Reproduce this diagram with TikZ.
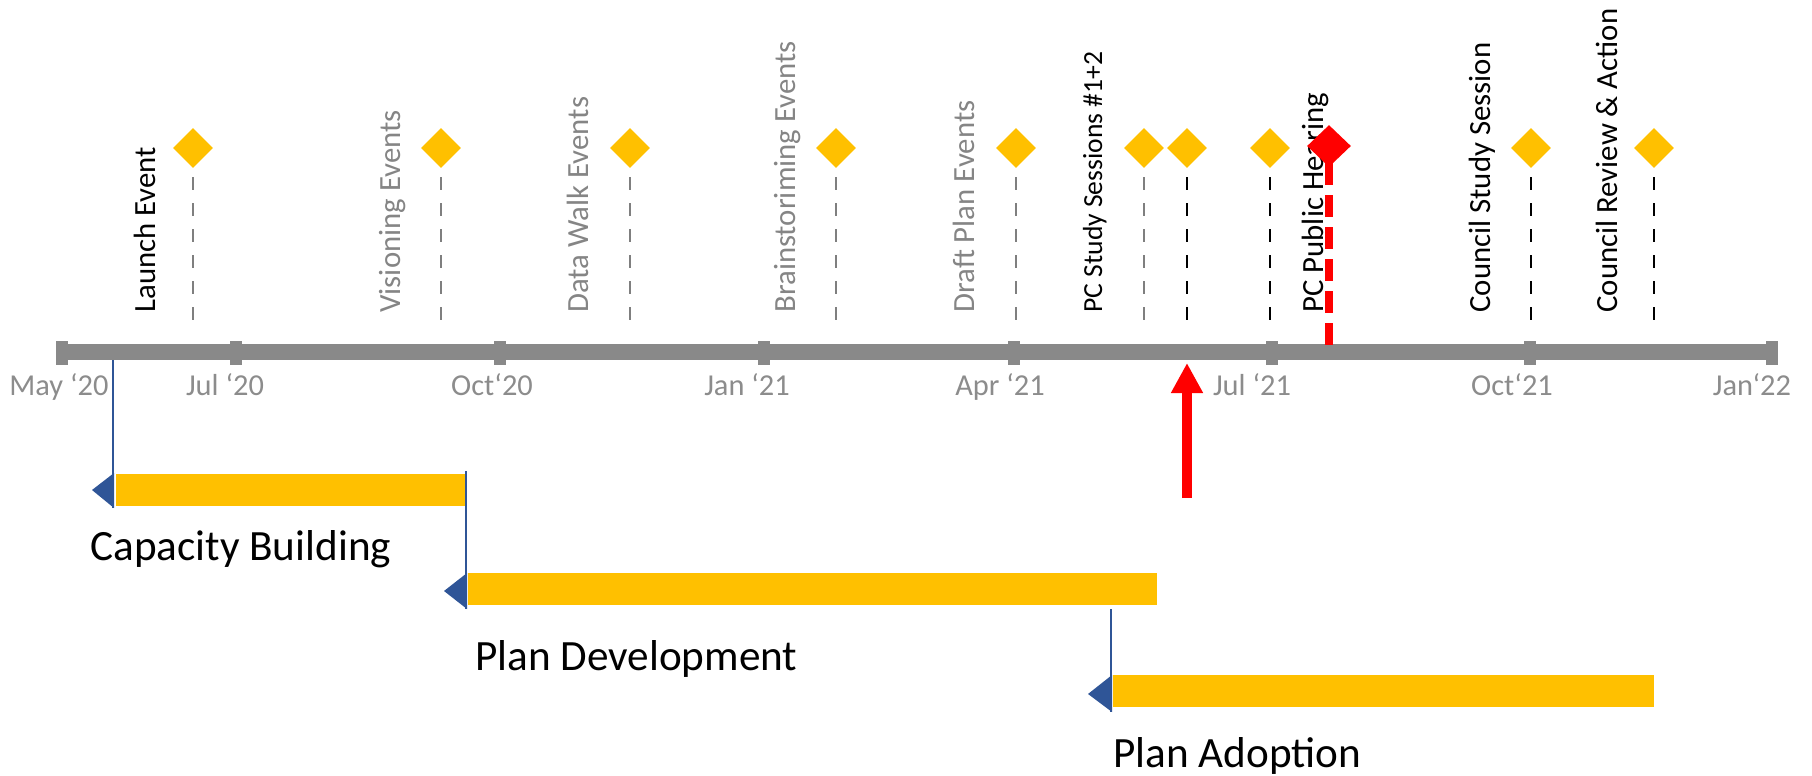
\documentclass[tikz,border=0pt]{standalone}
\usepackage{fontspec}
\setmainfont{Carlito}
\usetikzlibrary{shapes.geometric,arrows.meta}
\definecolor{axgray}{HTML}{898989}
\definecolor{mgray}{HTML}{8C8C8C}
\definecolor{egray}{HTML}{858585}
\definecolor{lgray}{HTML}{7F7F7F}
\definecolor{gold}{HTML}{FFC000}
\definecolor{flagblue}{HTML}{2F5597}
\definecolor{hotred}{HTML}{FF0000}
\begin{document}
\begin{tikzpicture}[x=0.5pt,y=-0.5pt,
 tickbox/.style={rectangle,fill=axgray,inner sep=0pt,minimum width=6pt,minimum height=12pt},
 monthlbl/.style={font=\fontsize{15.2}{18}\selectfont,text=mgray,anchor=base,inner sep=0pt},
 evlbl/.style={font=\fontsize{15.4}{18}\selectfont,rotate=90,anchor=base west,inner sep=0pt},
 evdia/.style={diamond,fill=gold,inner sep=0pt,minimum width=20pt,minimum height=20pt},
 reddia/.style={diamond,fill=hotred,inner sep=0pt,minimum width=22pt,minimum height=21pt},
 evline/.style={draw=lgray,line width=1pt,dash pattern=on 6.5pt off 6.5pt},
 evlinek/.style={draw=black,line width=1.2pt,dash pattern=on 6.5pt off 6.5pt},
 redline/.style={draw=hotred,line width=4pt,dash pattern=on 11pt off 5pt},
 axisline/.style={draw=axgray,line width=8pt},
 barbox/.style={rectangle,fill=gold,inner sep=0pt,anchor=north west,minimum height=16pt},
 flagline/.style={draw=flagblue,line width=1pt},
 flagtip/.style={fill=flagblue},
 phaselbl/.style={font=\fontsize{21.6}{26}\selectfont,anchor=base west,inner sep=0pt},
 redarrow/.style={draw=hotred,line width=5pt,-{Triangle[length=15pt,width=15pt]}}
]
\useasboundingbox (0,0) rectangle (1812,776);

% axis
\coordinate (axL) at (57,352);
\coordinate (axR) at (1777,352);
\draw[axisline] (axL) -- (axR);
\node[tickbox] (t0) at (62,353) {};
\node[tickbox] (t1) at (236,353) {};
\node[tickbox] (t2) at (500,353) {};
\node[tickbox] (t3) at (764,353) {};
\node[tickbox] (t4) at (1014,353) {};
\node[tickbox] (t5) at (1272,353) {};
\node[tickbox] (t6) at (1530,353) {};
\node[tickbox] (t7) at (1772,353) {};

% month labels
\node[monthlbl] (m0) at (59,395) {May ‘20};
\node[monthlbl] (m1) at (225,395) {Jul ‘20};
\node[monthlbl] (m2) at (492,395) {Oct‘20};
\node[monthlbl] (m3) at (747,395) {Jan ‘21};
\node[monthlbl] (m4) at (1000,395) {Apr ‘21};
\node[monthlbl] (m5) at (1252,395) {Jul ‘21};
\node[monthlbl] (m6) at (1512,395) {Oct‘21};
\node[monthlbl] (m7) at (1752,395) {Jan‘22};

% event labels
\node[evlbl] (l1) at (155,313) {Launch Event};
\node[evlbl,text=egray] (l2) at (400,313) {Visioning Events};
\node[evlbl,text=egray] (l3) at (588,313) {Data Walk Events};
\node[evlbl,text=egray] (l4) at (795,313) {Brainstoriming Events};
\node[evlbl,text=egray] (l5) at (974,313) {Draft Plan Events};
\node[evlbl,font=\fontsize{13.8}{17}\selectfont] (l6) at (1102,313) {PC Study Sessions \#1+2};
\node[evlbl] (l7) at (1323,313) {PC Public Hearing};
\node[evlbl] (l8) at (1490,313) {Council Study Session};
\node[evlbl] (l9) at (1617,313) {Council Review \& Action};

% event diamonds and drop lines
\coordinate (lnEnd) at (0,333);
\node[evdia] (d1) at (193,148) {};
\node[evdia] (d2) at (441,148) {};
\node[evdia] (d3) at (630,148) {};
\node[evdia] (d4) at (836,148) {};
\node[evdia] (d5) at (1016,148) {};
\node[evdia] (d6) at (1144,148) {};
\node[evdia] (d7) at (1187,148) {};
\node[evdia] (d8) at (1270,148) {};
\node[evdia] (d10) at (1531,148) {};
\node[evdia] (d11) at (1654,148) {};
\foreach \d in {d1,d2,d3,d4,d5,d6}
  \draw[evline] ([yshift=-4.5pt]\d.south) -- (\d.south |- lnEnd);
\foreach \d in {d7,d8,d10,d11}
  \draw[evlinek] ([yshift=-4.5pt]\d.south) -- (\d.south |- lnEnd);

% PC public hearing (red)
\coordinate (rTop) at (1329,163);
\coordinate (rEnd) at (0,347);
\draw[redline] (rTop) -- (rTop |- rEnd);
\node[reddia] (d9) at (1329,146) {};

% phase bars
\node[barbox,minimum width=174.5pt] (b1) at (116,474) {};
\node[barbox,minimum width=344.5pt] (b2) at (468,573) {};
\node[barbox,minimum width=270.5pt] (b3) at (1113,675) {};

% flags
\coordinate (f1a) at (113,360);
\coordinate (f1b) at (113,508);
\draw[flagline] (f1a) -- (f1b);
\fill[flagtip] (114,473) -- (92,490) -- (114,508) -- cycle;
\coordinate (f2a) at (466,471);
\coordinate (f2b) at (466,609);
\draw[flagline] (f2a) -- (f2b);
\fill[flagtip] (467,573) -- (444,591) -- (467,609) -- cycle;
\coordinate (f3a) at (1111,609);
\coordinate (f3b) at (1111,712);
\draw[flagline] (f3a) -- (f3b);
\fill[flagtip] (1112,675) -- (1088,694) -- (1112,712) -- cycle;

% phase labels
\node[phaselbl] (p1) at (90,560) {Capacity Building};
\node[phaselbl] (p2) at (475,670) {Plan Development};
\node[phaselbl] (p3) at (1113,767) {Plan Adoption};

% current-date arrow
\coordinate (ra0) at (1187,498);
\coordinate (ra1) at (1187,363);
\draw[redarrow] (ra0) -- (ra1);
\end{tikzpicture}
\end{document}
